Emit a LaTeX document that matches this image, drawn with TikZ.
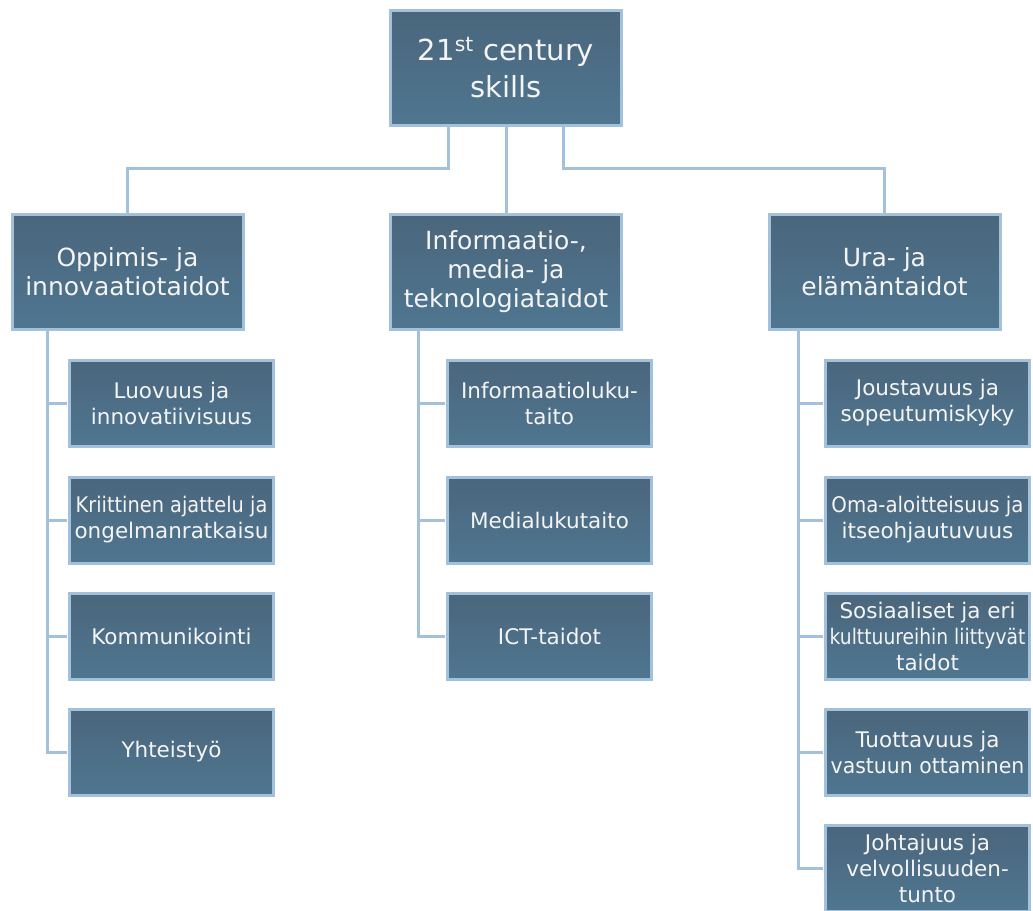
\documentclass[tikz,border=0pt]{standalone}
\usepackage{fontspec}
\setmainfont{DejaVu Sans}
\definecolor{boxtop}{HTML}{4A667C}
\definecolor{boxbot}{HTML}{4F7690}
\definecolor{edge}{HTML}{A3C1DB}
\definecolor{txt}{HTML}{F4F4F4}
\newcommand{\squeeze}[2]{\makebox[0pt]{\scalebox{#1}[1]{#2}}}
\begin{document}
\begin{tikzpicture}[x=1pt,y=-1pt,
  box/.style={draw=edge, line width=3pt, top color=boxtop, bottom color=boxbot,
    text=txt, align=center, inner sep=0pt},
  rootbox/.style={box, minimum width=231pt, minimum height=115pt, font=\fontsize{29}{37}\selectfont},
  topbox/.style={box, minimum width=231pt, minimum height=115pt, font=\fontsize{25}{29}\selectfont},
  kidbox/.style={box, minimum width=204pt, minimum height=86pt, font=\fontsize{21.5}{26}\selectfont},
  link/.style={draw=edge, line width=3pt}
]
\useasboundingbox (0,0) rectangle (1033,910);
\node[rootbox] (root) at (506,68) {21\textsuperscript{st} century\\skills};
\node[topbox] (l1) at (127.5,271.5) {Oppimis- ja\\innovaatiotaidot};
\node[topbox] (l2) at (506,271.5) {Informaatio-,\\media- ja\\teknologiataidot};
\node[topbox] (l3) at (884.5,272) {Ura- ja\\elämäntaidot};

\node[kidbox] (a1) at (171.5,403) {Luovuus ja\\innovatiivisuus};
\node[kidbox] (a2) at (171.5,520) {\squeeze{0.9}{Kriittinen ajattelu ja}\\ongelmanratkaisu};
\node[kidbox] (a3) at (171.5,636) {Kommunikointi};
\node[kidbox] (a4) at (171.5,752) {Yhteistyö};

\node[kidbox] (b1) at (549.5,403) {Informaatioluku-\\taito};
\node[kidbox] (b2) at (549.5,520) {Medialukutaito};
\node[kidbox] (b3) at (549.5,636) {ICT-taidot};

\node[kidbox] (c1) at (927.5,403) {Joustavuus ja\\sopeutumiskyky};
\node[kidbox] (c2) at (927.5,520) {\squeeze{0.92}{Oma-aloitteisuus ja}\\itseohjautuvuus};
\node[kidbox] (c3) at (927.5,636) {Sosiaaliset ja eri\\\squeeze{0.87}{kulttuureihin liittyvät}\\taidot};
\node[kidbox] (c4) at (927.5,752) {Tuottavuus ja\\\squeeze{0.95}{vastuun ottaminen}};
\node[kidbox] (c5) at (927.5,868) {Johtajuus ja\\velvollisuuden-\\tunto};

\draw[link] ([xshift=-58pt,yshift=1.5pt]root.south) -- ++(0,43) -| ([yshift=-1.5pt]l1.north);
\draw[link] ([yshift=1.5pt]root.south) -- ([yshift=-1.5pt]l2.north);
\draw[link] ([xshift=57pt,yshift=1.5pt]root.south) -- ++(0,43) -| ([yshift=-1.5pt]l3.north);

\foreach \k in {a1,a2,a3,a4}
  \draw[link] ([xshift=-80.5pt,yshift=1.5pt]l1.south) |- ([xshift=-1.5pt]\k.west);
\foreach \k in {b1,b2,b3}
  \draw[link] ([xshift=-88pt,yshift=1.5pt]l2.south) |- ([xshift=-1.5pt]\k.west);
\foreach \k in {c1,c2,c3,c4,c5}
  \draw[link] ([xshift=-86.5pt,yshift=1.5pt]l3.south) |- ([xshift=-1.5pt]\k.west);
\end{tikzpicture}
\end{document}
